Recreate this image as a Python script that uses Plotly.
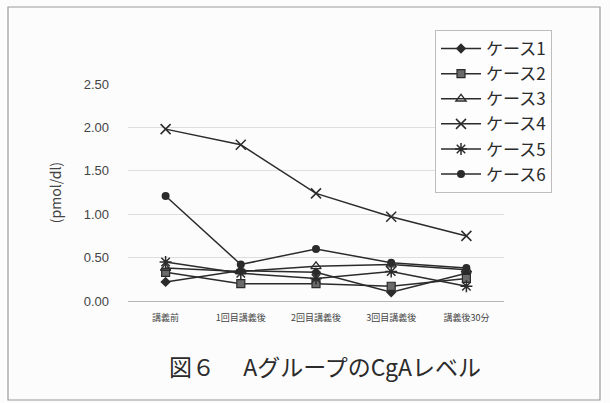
import plotly.graph_objects as go

# Measurement points (lecture timing) and CgA levels per case
categories = ["講義前", "1回目講義後", "2回目講義後", "3回目講義後", "講義後30分"]
case1 = [0.22, 0.35, 0.33, 0.10, 0.32]
case2 = [0.33, 0.20, 0.20, 0.17, 0.26]
case3 = [0.38, 0.34, 0.40, 0.42, 0.36]
case4 = [1.98, 1.80, 1.24, 0.97, 0.75]
case5 = [0.45, 0.32, 0.26, 0.34, 0.17]
case6 = [1.21, 0.42, 0.60, 0.44, 0.38]
names = ["ケース1", "ケース2", "ケース3", "ケース4", "ケース5", "ケース6"]
y_ticks = [0.0, 0.5, 1.0, 1.5, 2.0, 2.5]

FONT = "Noto Sans CJK JP, Noto Sans, sans-serif"
INK = "#2b2b2b"

series = [case1, case2, case3, case4, case5, case6]
markers = [
    dict(symbol="diamond", size=8, color=INK),
    dict(symbol="square", size=8, color="#6a6a6a", line=dict(color=INK, width=1.2)),
    dict(symbol="triangle-up-open", size=9, color=INK, line=dict(width=1.3)),
    dict(symbol="x-thin-open", size=10, color=INK, line=dict(color=INK, width=1.5)),
    dict(symbol="asterisk-open", size=10, color=INK, line=dict(color=INK, width=1.5)),
    dict(symbol="circle", size=8, color=INK),
]

fig = go.Figure()
for name, vals, mk in zip(names, series, markers):
    fig.add_trace(go.Scatter(
        x=categories, y=vals, name=name, mode="lines+markers",
        line=dict(color=INK, width=1.5), marker=mk,
    ))

PW, PH = 376, 217  # plotting area size in pixels

fig.update_layout(
    width=610, height=403,
    margin=dict(l=128, r=106, t=84, b=102),
    paper_bgcolor="#fcfcfc", plot_bgcolor="#fcfcfc",
    font=dict(family=FONT, color=INK),
    showlegend=True,
    legend=dict(
        x=(435 - 128) / PW, y=1 + (84 - 30) / PH, xref="paper", yref="paper",
        xanchor="left", yanchor="top",
        font=dict(size=17, color=INK, family=FONT),
        bgcolor="#fdfdfd", bordercolor="#bdbdbd", borderwidth=1,
        tracegroupgap=0, itemwidth=40,
    ),
    xaxis=dict(
        type="category", range=[-0.5, 4.5], showgrid=False, zeroline=False,
        showline=False, ticks="", ticklabelstandoff=10,
        tickfont=dict(size=9, color="#444", family=FONT),
    ),
    yaxis=dict(
        range=[0, 2.5], tickvals=y_ticks, tickformat=".2f",
        showgrid=True, gridcolor="#dedede", gridwidth=1,
        zeroline=True, zerolinecolor="#b5b5b5", zerolinewidth=1.2,
        showline=False, ticks="", ticklabelstandoff=18,
        tickfont=dict(size=13, color="#444", family="Liberation Sans, Arial, sans-serif"),
        title=dict(text="(pmol/dl)", font=dict(size=14, color="#444", family=FONT), standoff=18),
    ),
    shapes=[dict(
        type="rect", xref="paper", yref="paper",
        x0=-120 / PW, x1=1 + 96 / PW, y0=-99 / PH, y1=1 + 77 / PH,
        line=dict(color="#9a9a9a", width=1.2), fillcolor="rgba(0,0,0,0)", layer="below",
    )],
    annotations=[dict(
        text="図６　 AグループのCgAレベル", xref="paper", yref="paper",
        x=(325 - 128) / PW, y=-65 / PH, xanchor="center", yanchor="middle", showarrow=False,
        font=dict(size=23, color=INK, family=FONT),
    )],
)

fig.write_html("out.html")
